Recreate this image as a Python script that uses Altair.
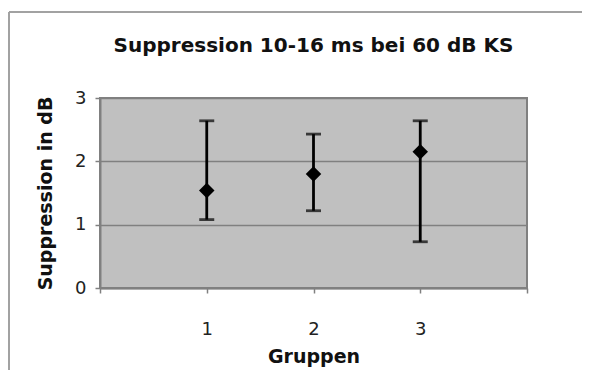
import altair as alt
import pandas as pd

groups = [1, 2, 3]
means = [1.54, 1.80, 2.15]
upper = [2.64, 2.43, 2.64]
lower = [1.08, 1.22, 0.73]

df = pd.DataFrame({"Gruppe": groups, "Mittel": means, "Oben": upper, "Unten": lower})

FONT = "DejaVu Sans"
W, H = 427, 190

x_enc = alt.X(
    "Gruppe:Q",
    scale=alt.Scale(domain=[0, 4], nice=False, zero=False),
    axis=alt.Axis(
        values=[0, 1, 2, 3, 4],
        format="d",
        labelExpr="datum.value >= 1 && datum.value <= 3 ? datum.label : ''",
        grid=False,
        title="Gruppen",
        titleX=W / 2,
        titleY=68,
        titleBaseline="middle",
        labelPadding=27,
    ),
)
y_axis = alt.Axis(
    values=[0, 1, 2, 3],
    format="d",
    grid=True,
    title="Suppression in dB",
    titleX=-55,
    titleY=H / 2,
    titleAngle=-90,
    titleAlign="center",
    titleBaseline="middle",
    labelPadding=9,
)

base = alt.Chart(df)

rules = base.mark_rule(color="black", strokeWidth=2.8).encode(
    x=x_enc,
    y=alt.Y("Unten:Q", scale=alt.Scale(domain=[0, 3], nice=False), axis=y_axis),
    y2="Oben:Q",
)
cap_hi = base.mark_tick(color="black", orient="horizontal", size=15, thickness=2.8).encode(
    x="Gruppe:Q", y="Oben:Q"
)
cap_lo = base.mark_tick(color="black", orient="horizontal", size=15, thickness=2.8).encode(
    x="Gruppe:Q", y="Unten:Q"
)
points = base.mark_point(shape="diamond", filled=True, color="black", size=240, opacity=1).encode(
    x="Gruppe:Q", y="Mittel:Q"
)

frame_left = alt.Chart(df).mark_rule(color="#a0a0a0", strokeWidth=1.5).encode(
    x=alt.value(-91), y=alt.value(-86), y2=alt.value(300)
)
frame_top = alt.Chart(df).mark_rule(color="#a0a0a0", strokeWidth=1.5).encode(
    x=alt.value(-91), x2=alt.value(500), y=alt.value(-86)
)

chart = (
    alt.layer(frame_left, frame_top, rules, cap_hi, cap_lo, points)
    .properties(
        width=W,
        height=H,
        title=alt.TitleParams(
            "Suppression 10-16 ms bei 60 dB KS",
            font=FONT,
            fontSize=20,
            fontWeight="bold",
            color="#111111",
            anchor="middle",
            offset=-45,
        ),
        autosize=alt.AutoSizeParams(type="none"),
        padding={"left": 92, "top": 90, "right": 55, "bottom": 82},
    )
    .configure(background="white")
    .configure_view(fill="#C0C0C0", stroke="#808080", strokeWidth=2)
    .configure_axis(
        labelFont=FONT,
        labelFontSize=18,
        labelColor="#222222",
        titleFont=FONT,
        titleFontSize=19,
        titleFontWeight="bold",
        titleColor="#111111",
        gridColor="#808080",
        gridWidth=1.5,
        gridOpacity=1,
        domainColor="#808080",
        domainWidth=2,
        tickColor="#808080",
        tickSize=5,
        tickWidth=1.5,
    )
)

chart.save("out.html", embed_options={"renderer": "svg", "actions": False})
